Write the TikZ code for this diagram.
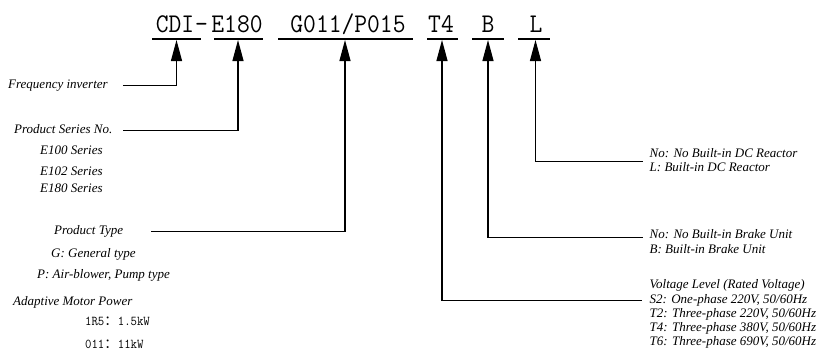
\documentclass[tikz,border=0pt]{standalone}
\usepackage{fontspec}
\setmainfont{Liberation Serif}
\newfontfamily\cjkfont{Noto Sans CJK SC}
\newfontfamily\codefont[FakeStretch=0.92]{Latin Modern Mono}
\usetikzlibrary{arrows.meta,calc}
\begin{document}
\begin{tikzpicture}[x=1pt,y=-1pt,
  lbl/.style={font=\fontsize{13}{14}\selectfont\itshape, inner sep=0pt, anchor=base west, text height=9pt, text depth=3pt},
  mono/.style={font=\fontsize{13.5}{14}\codefont, inner sep=0pt, anchor=base west},
  code/.style={font=\fontsize{27}{28}\codefont, inner sep=0pt, anchor=base},
  uline/.style={line width=1.3pt},
  conn/.style={line width=1.2pt, -{Triangle[width=11pt,length=21pt]}}
]
\useasboundingbox (0,0) rectangle (820,354);

% code letters
\node[code] (cdi) at (175,32) {CDI};
\node[code] (dash) at (201.5,32) {-};
\node[code] (e180) at (237,32) {E180};
\node[code] (gp) at (348,32) {G011/P015};
\node[code] (t4) at (441,32) {T4};
\node[code] (b) at (488,32) {B};
\node[code] (l) at (536,32) {L};

% underlines
\draw[uline] (152,39) -- (201,39);
\draw[uline] (214,39) -- (263,39);
\draw[uline] (278,39) -- (413,39);
\draw[uline] (427,39) -- (458,39);
\draw[uline] (472,39) -- (504,39);
\draw[uline] (518,39) -- (550,39);

% arrow tips
\coordinate (acdi) at (176.5,40);
\coordinate (ae180) at (238,40);
\coordinate (agp) at (345,40);
\coordinate (at4) at (442,40);
\coordinate (ab) at (488,40);
\coordinate (al) at (535.5,40);

% left labels
\node[lbl] (freq) at (8,88.5) {Frequency inverter};
\node[lbl] (series) at (14,133.5) {Product Series No.};
\node[lbl] (e100) at (40,154.5) {E100 Series};
\node[lbl] (e102) at (40,175.5) {E102 Series};
\node[lbl] (e180s) at (40,192.5) {E180 Series};
\node[lbl] (ptype) at (54,234.5) {Product Type};
\node[lbl] (gen) at (51,257.5) {G: General type};
\node[lbl] (pump) at (37,278.5) {P: Air-blower, Pump type};
\node[lbl] (amp) at (13,305) {Adaptive Motor Power};
\node[mono] (r15) at (85,325.5) {1R5{\cjkfont ：}1.5kW};
\node[mono] (k11) at (85,348) {011{\cjkfont ：}11kW};

% right labels
\node[lbl] (dc1) at (649.5,157.5) {No: No Built-in DC Reactor};
\node[lbl] (dc2) at (649.5,171.5) {L: Built-in DC Reactor};
\node[lbl] (br1) at (649.5,238.5) {No: No Built-in Brake Unit};
\node[lbl] (br2) at (649.5,253.5) {B: Built-in Brake Unit};
\node[lbl] (v0) at (649.5,288.5) {Voltage Level (Rated Voltage)};
\node[lbl] (v1) at (649.5,303.5) {S2: One-phase 220V, 50/60Hz};
\node[lbl] (v2) at (649.5,317.5) {T2: Three-phase 220V, 50/60Hz};
\node[lbl] (v3) at (649.5,331.5) {T4: Three-phase 380V, 50/60Hz};
\node[lbl] (v4) at (649.5,345.5) {T6: Three-phase 690V, 50/60Hz};

% connectors
\draw[conn] ([xshift=15pt]freq.east) -| (acdi);
\draw[conn] ([xshift=11pt]series.east) -| (ae180);
\draw[conn] ([xshift=28pt]ptype.east) -| (agp);
\draw[conn] ([xshift=-8pt]v1.west) -| (at4);
\draw[conn] ([xshift=-7pt,yshift=-2pt]br1.west) -| (ab);
\draw[conn] ($(dc1.west)!0.5!(dc2.west)+(-7,0)$) -| (al);
\end{tikzpicture}
\end{document}
